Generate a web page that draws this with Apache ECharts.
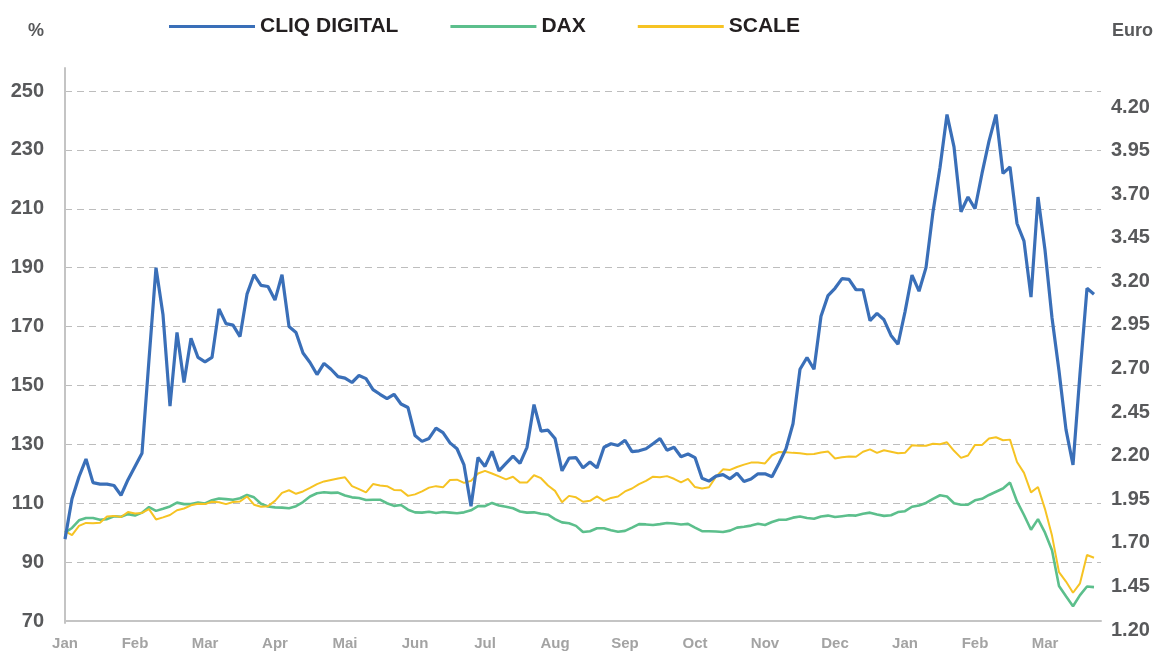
<!DOCTYPE html>
<html>
<head>
<meta charset="utf-8">
<script src="https://cdn.jsdelivr.net/npm/echarts@6/dist/echarts.min.js"></script>
<style>
html,body{margin:0;padding:0;background:#fff;}
#chart{width:1157px;height:651px;}
</style>
</head>
<body>
<div id="chart"></div>
<script>
// Month tick labels (10 samples per month)
const months = ['Jan','Feb','Mar','Apr','Mai','Jun','Jul','Aug','Sep','Oct','Nov','Dec','Jan','Feb','Mar'];
const samplesPerMonth = 10;

// Indexed performance in %
const cliq = [97.8,111.5,119,125,117,116.5,116.5,116,112.7,118,122.5,127,158.8,190,174,143,168,151,166,159.5,
158,159.5,176,171,170.5,166.6,181,187.6,184,183.6,179,187.6,170,168,161,157.8,153.7,157.5,155.5,153,
152.5,151,153.4,152.3,148.6,147,145.5,147,143.7,142.5,133,131,132,135.5,134,130.5,128.5,123,109,125.5,
122.5,127.6,121,123.5,126,123.5,129,143.5,134.5,134.8,132,121,125.3,125.5,122,124,122,129,130.2,129.6,
131.4,127.5,127.8,128.5,130.2,132,128,129,125.8,126.7,125.5,118.5,117.5,119.2,119.7,118.3,120.2,117.4,118.2,120,
120,119,123.6,128.5,137,155.5,159.5,155.5,173.5,180.5,183,186.3,186,182.5,182.5,172,174.5,172.3,167,164,
175,187.5,182,190,209,224,242,231,209,214,210,222,233,242,222,224.2,205,199,180,214,
196,173,155,135,123,154,183,181];

const dax = [100,101.6,104.2,105,105,104.4,104.6,105.6,105.4,106.3,105.8,106.8,108.7,107.4,108.1,108.9,110.2,109.7,109.7,110.2,
109.9,111,111.6,111.4,111.2,111.7,112.8,112,109.8,108.9,108.6,108.5,108.3,109,110.4,112.3,113.4,113.7,113.5,113.6,
112.6,112,111.8,111.1,111.2,111.2,110,109.1,109.4,107.8,106.9,106.8,107.1,106.7,107,106.8,106.6,106.9,107.6,109,
109,110.1,109.2,108.8,108.3,107.2,106.8,106.9,106.4,106.1,104.6,103.5,103.2,102.3,100.2,100.5,101.5,101.5,100.8,100.3,
100.6,101.7,102.9,102.8,102.6,102.9,103.3,103.1,102.8,103,101.7,100.5,100.5,100.4,100.2,100.7,101.7,102,102.4,103,
102.6,103.6,104.4,104.4,105.1,105.5,105,104.7,105.5,105.8,105.3,105.6,105.9,105.8,106.4,106.8,106.2,105.7,105.9,107,
107.3,108.8,109.2,110.1,111.5,112.7,112.3,110,109.5,109.5,111,111.5,112.8,113.9,115,117,110.6,106,101,104.6,
100,94,81.9,78.4,75,78.8,81.7,81.5];

const scale = [100.5,99.2,102.3,103.3,103.2,103.4,105.5,105.7,105.3,107,106.5,106.7,108,104.5,105.2,106,107.6,108.2,109.3,109.8,
109.7,110.5,110.3,109.7,110.4,110.6,112.3,109.5,108.8,109,110.8,113.5,114.4,113.2,114,115.2,116.5,117.4,117.9,118.4,
118.8,115.8,114.8,113.7,116.5,116,115.8,114.5,114.4,112.5,113,114,115.3,115.8,115.4,117.9,118,116.9,117.6,120.1,
121,120.1,119.1,118.1,119,117,117,119.5,118.5,116,114.2,110.3,112.5,112,110.5,110.8,112.3,110.8,111.8,112.3,
114,115,116.5,117.6,119,118.8,119.2,118.3,117.1,118.3,115.5,115,115.4,119,121.5,121.3,122.3,123.1,123.8,123.8,
123.5,126.3,127.4,127.3,127.1,127,126.6,126.7,127.2,127.6,125.2,125.6,125.9,125.8,127.5,128.3,127.1,128,127.5,127,
127.1,129.7,129.5,129.5,130.2,130,130.7,127.8,125.4,126.2,129.8,129.8,132,132.4,131.4,131.6,124,120.3,113.7,115.5,
108,99,86.6,83.4,79.6,82.8,92.4,91.5];

// Category axis: one category per sample plus one trailing empty slot
const categories = [];
for (let i = 0; i <= cliq.length; i++) {
  categories.push(months[Math.floor(i / samplesPerMonth)] + '|' + i);
}

const FONT = "'Liberation Sans', Arial, Helvetica, sans-serif";
const chart = echarts.init(document.getElementById('chart'));
chart.setOption({
  animation: false,
  backgroundColor: '#ffffff',
  title: [
    {text: '%', left: 23, top: 17, textStyle: {fontFamily: FONT, fontWeight: 'bold', fontSize: 18, color: '#58595b'}},
    {text: 'Euro', left: 1107, top: 17, textStyle: {fontFamily: FONT, fontWeight: 'bold', fontSize: 18, color: '#58595b'}}
  ],
  legend: {
    left: 164, top: 11,
    icon: 'rect', itemWidth: 86, itemHeight: 3, itemGap: 52,
    textStyle: {fontFamily: FONT, fontWeight: 'bold', fontSize: 21, color: '#231f20'},
    data: ['CLIQ DIGITAL', 'DAX', 'SCALE']
  },
  grid: [
    {left: 65, right: 56, top: 91, bottom: 28},
    {left: 65, right: 56, top: 68, bottom: 28},
    {left: 65, right: 56, top: 107, bottom: 21}
  ],
  xAxis: [
    {
      type: 'category', gridIndex: 0, data: categories, boundaryGap: false,
      axisLine: {show: true, lineStyle: {color: '#c4c4c4', width: 2}},
      axisTick: {show: false},
      axisLabel: {
        interval: function (idx) { return idx % samplesPerMonth === 0; },
        formatter: function (v) { return v.split('|')[0]; },
        margin: 15, fontFamily: FONT, fontWeight: 'bold', fontSize: 15, color: '#a3a3a3'
      },
      splitLine: {show: false}
    },
    {type: 'value', gridIndex: 1, show: false, min: 0, max: 1},
    {type: 'value', gridIndex: 2, show: false, min: 0, max: 1}
  ],
  yAxis: [
    {
      type: 'value', gridIndex: 0, min: 70, max: 250, interval: 20,
      axisLine: {show: false}, axisTick: {show: false},
      axisLabel: {margin: 21, fontFamily: FONT, fontWeight: 'bold', fontSize: 20, color: '#58595b'},
      splitLine: {show: true, lineStyle: {color: '#bdbdbd', width: 1, type: [7, 5]}}
    },
    {
      type: 'value', gridIndex: 1, min: 0, max: 1,
      axisLine: {show: true, lineStyle: {color: '#c4c4c4', width: 2}},
      axisTick: {show: false}, axisLabel: {show: false}, splitLine: {show: false}
    },
    {
      type: 'value', gridIndex: 2, position: 'right', min: 1.2, max: 4.2, interval: 0.25,
      axisLine: {show: false}, axisTick: {show: false}, splitLine: {show: false},
      axisLabel: {
        margin: 10, fontFamily: FONT, fontWeight: 'bold', fontSize: 20, color: '#58595b',
        formatter: function (v) { return v.toFixed(2); }
      }
    }
  ],
  series: [
    {name: 'CLIQ DIGITAL', type: 'line', xAxisIndex: 0, yAxisIndex: 0, data: cliq, symbol: 'none', z: 5,
     itemStyle: {color: '#3a6fb8'}, lineStyle: {color: '#3a6fb8', width: 3.2}},
    {name: 'DAX', type: 'line', xAxisIndex: 0, yAxisIndex: 0, data: dax, symbol: 'none', z: 3,
     itemStyle: {color: '#5cbf8c'}, lineStyle: {color: '#5cbf8c', width: 2.6}},
    {name: 'SCALE', type: 'line', xAxisIndex: 0, yAxisIndex: 0, data: scale, symbol: 'none', z: 4,
     itemStyle: {color: '#f6c323'}, lineStyle: {color: '#f6c323', width: 2}}
  ]
});
</script>
</body>
</html>
